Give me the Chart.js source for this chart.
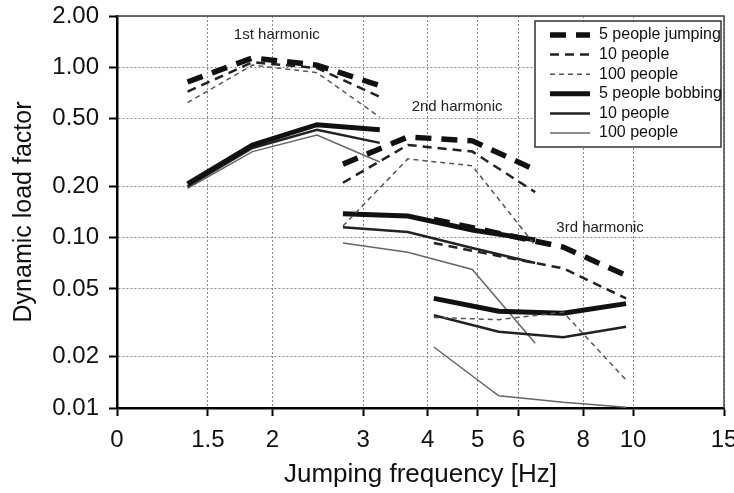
<!DOCTYPE html>
<html><head><meta charset="utf-8">
<script src="https://cdn.jsdelivr.net/npm/chart.js@4"></script>
<style>html,body{margin:0;padding:0;background:#fff;}canvas{display:block;}</style>
</head><body>
<canvas id="c" width="734" height="493"></canvas>
<script>
// ---- data ----
const freqH1 = [1.37, 1.83, 2.44, 3.23];
const freqH2 = [2.74, 3.66, 4.88, 6.46];
const freqH3 = [4.11, 5.49, 7.32, 9.69];

const jump5H1 = [0.82, 1.135, 1.03, 0.78];
const jump5H2 = [0.27, 0.39, 0.37, 0.25];
const jump5H3 = [0.128, 0.106, 0.088, 0.060];

const jump10H1 = [0.72, 1.07, 0.99, 0.67];
const jump10H2 = [0.21, 0.35, 0.32, 0.185];
const jump10H3 = [0.093, 0.078, 0.066, 0.044];

const jump100H1 = [0.62, 1.03, 0.93, 0.51];
const jump100H2 = [0.117, 0.29, 0.264, 0.09];
const jump100H3 = [0.034, 0.033, 0.0365, 0.0146];

const bob5H1 = [0.207, 0.35, 0.46, 0.43];
const bob5H2 = [0.138, 0.134, 0.111, 0.097];
const bob5H3 = [0.044, 0.037, 0.036, 0.041];

const bob10H1 = [0.20, 0.336, 0.43, 0.36];
const bob10H2 = [0.115, 0.108, 0.087, 0.071];
const bob10H3 = [0.035, 0.028, 0.026, 0.030];

const bob100H1 = [0.195, 0.32, 0.40, 0.278];
const bob100H2 = [0.093, 0.082, 0.065, 0.024];
const bob100H3 = [0.0228, 0.0118, 0.0108, 0.0101];

const seriesLabels = ['5 people jumping', '10 people', '100 people', '5 people bobbing', '10 people', '100 people'];

const xTickValues = [1, 1.5, 2, 3, 4, 5, 6, 8, 10, 15];
const xTickLabels = ['0', '1.5', '2', '3', '4', '5', '6', '8', '10', '15'];
const yTickValues = [0.01, 0.02, 0.05, 0.1, 0.2, 0.5, 1, 2];
const yTickLabels = ['0.01', '0.02', '0.05', '0.10', '0.20', '0.50', '1.00', '2.00'];

const harmonicLabels = ['1st harmonic', '2nd harmonic', '3rd harmonic'];
const harmonicLabelX = [2.04, 4.56, 8.63];
const harmonicLabelY = [1.55, 0.585, 0.114];

// ---- build ----
const FONT = "'Liberation Sans', Arial, Helvetica, sans-serif";
function points(h1, h2, h3) {
  const out = [];
  [[freqH1, h1], [freqH2, h2], [freqH3, h3]].forEach(([f, v], k) => {
    if (k > 0) out.push({x: f[0], y: null});
    f.forEach((fx, i) => out.push({x: fx, y: v[i]}));
  });
  return out;
}
const styles = [
  {c: '#111', w: 5.5, d: [16, 10]},
  {c: '#222', w: 2.5, d: [9, 6]},
  {c: '#555', w: 1.5, d: [5, 4]},
  {c: '#111', w: 5, d: []},
  {c: '#222', w: 2.5, d: []},
  {c: '#666', w: 1.5, d: []}
];
const seriesData = [
  points(jump5H1, jump5H2, jump5H3),
  points(jump10H1, jump10H2, jump10H3),
  points(jump100H1, jump100H2, jump100H3),
  points(bob5H1, bob5H2, bob5H3),
  points(bob10H1, bob10H2, bob10H3),
  points(bob100H1, bob100H2, bob100H3)
];
const datasets = seriesData.map((d, i) => ({
  label: seriesLabels[i],
  data: d,
  borderColor: styles[i].c,
  borderWidth: styles[i].w,
  borderDash: styles[i].d,
  pointRadius: 0,
  fill: false,
  tension: 0,
  spanGaps: false
}));

const framePlugin = {
  id: 'frame',
  afterDraw(chart) {
    const {ctx, chartArea: a} = chart;
    ctx.save();
    ctx.strokeStyle = '#444';
    ctx.lineWidth = 1.5;
    ctx.beginPath();
    ctx.moveTo(a.left, a.top);
    ctx.lineTo(a.right, a.top);
    ctx.lineTo(a.right, a.bottom);
    ctx.stroke();
    // harmonic labels
    ctx.fillStyle = '#222';
    ctx.font = '15px ' + FONT;
    ctx.textAlign = 'center';
    ctx.textBaseline = 'middle';
    const xs = chart.scales.x, ys = chart.scales.y;
    harmonicLabels.forEach((t, i) => {
      ctx.fillText(t, xs.getPixelForValue(harmonicLabelX[i]), ys.getPixelForValue(harmonicLabelY[i]));
    });
    // legend
    const bw = 186, bh = 126;
    const bx = a.right - 3 - bw, by = a.top + 5;
    ctx.fillStyle = '#fff';
    ctx.fillRect(bx, by, bw, bh);
    ctx.strokeStyle = '#333';
    ctx.lineWidth = 1.5;
    ctx.strokeRect(bx, by, bw, bh);
    ctx.font = '16px ' + FONT;
    ctx.textAlign = 'left';
    chart.data.datasets.forEach((ds, i) => {
      const y = by + 14 + i * 19.6;
      ctx.strokeStyle = ds.borderColor;
      ctx.lineWidth = ds.borderWidth;
      ctx.setLineDash(ds.borderDash);
      ctx.beginPath();
      ctx.moveTo(bx + 15, y);
      ctx.lineTo(bx + 55, y);
      ctx.stroke();
      ctx.setLineDash([]);
      ctx.fillStyle = '#111';
      ctx.fillText(ds.label, bx + 64, y);
    });
    ctx.restore();
  }
};

new Chart(document.getElementById('c'), {
  type: 'line',
  data: {datasets},
  plugins: [framePlugin],
  options: {
    responsive: false,
    animation: false,
    devicePixelRatio: 1,
    layout: {padding: {left: 0, right: 10, top: 16, bottom: 0}},
    plugins: {legend: {display: false}, tooltip: {enabled: false}},
    scales: {
      x: {
        type: 'logarithmic', min: 1, max: 15,
        afterBuildTicks: s => { s.ticks = xTickValues.map(v => ({value: v})); },
        afterFit: s => { s.height = 85; s.paddingLeft = 0; s.paddingRight = 0; },
        ticks: {autoSkip: false, maxRotation: 0, minRotation: 0, padding: 10, color: '#111',
          font: {size: 24, family: FONT}, callback: (v, i) => xTickLabels[i]},
        grid: {color: '#888', lineWidth: 1, tickLength: 8, tickColor: '#000', tickWidth: 2},
        border: {display: true, color: '#000', width: 2.5, dash: [2, 2]},
        title: {display: true, text: 'Jumping frequency [Hz]', color: '#111',
          font: {size: 26, family: FONT}, padding: {top: 0, bottom: 3}}
      },
      y: {
        type: 'logarithmic', min: 0.01, max: 2,
        afterBuildTicks: s => { s.ticks = yTickValues.map(v => ({value: v})); },
        afterFit: s => { s.width = 117; s.paddingTop = 0; s.paddingBottom = 0; },
        ticks: {autoSkip: false, padding: 10, color: '#111',
          font: {size: 24, family: FONT}, callback: (v, i) => yTickLabels[i]},
        grid: {color: '#888', lineWidth: 1, tickLength: 8, tickColor: '#000', tickWidth: 2},
        border: {display: true, color: '#000', width: 2.5, dash: [2, 2]},
        title: {display: true, text: 'Dynamic load factor', color: '#111',
          font: {size: 25, family: FONT}, padding: {top: 9, bottom: 0}}
      }
    }
  }
});
</script>
</body></html>
